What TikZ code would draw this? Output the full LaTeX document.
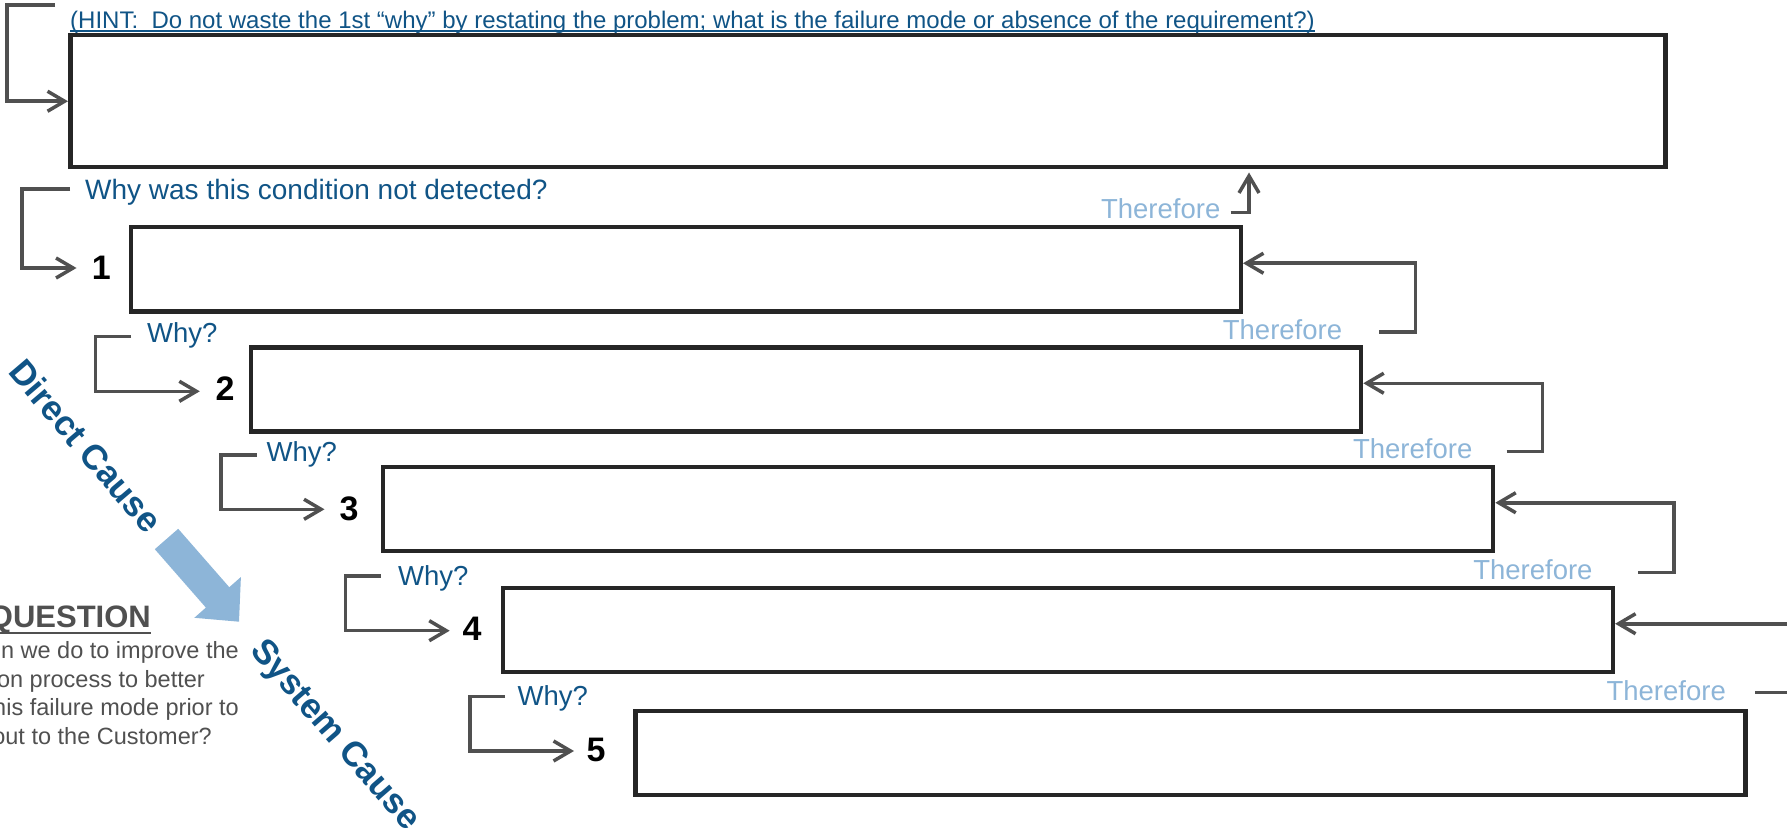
\documentclass[tikz,border=0pt]{standalone}
\usepackage{fontspec}
\setmainfont{Liberation Sans}
\usetikzlibrary{arrows.meta}
\definecolor{dkblue}{RGB}{16,84,134}
\definecolor{ltblue}{RGB}{141,181,216}
\definecolor{connc}{RGB}{80,80,80}
\definecolor{boxc}{RGB}{38,38,38}
\definecolor{qgray}{RGB}{80,80,80}
\begin{document}
\begin{tikzpicture}[x=1pt,y=-1pt,
  wbox/.style={draw=boxc,line width=4.5pt,inner sep=0pt,anchor=north west,minimum width=1110pt,minimum height=84pt},
  conn/.style={draw=connc,line width=3.5pt,-{Straight Barb[length=17pt,width=20pt]}},
  whytxt/.style={text=dkblue,font=\fontsize{27.5}{30}\selectfont,inner sep=0pt,anchor=base west},
  thtxt/.style={text=ltblue,font=\fontsize{27.5}{30}\selectfont,inner sep=0pt,anchor=base east},
  num/.style={font=\fontsize{34}{38}\selectfont\bfseries,inner sep=0pt},
  diag/.style={text=dkblue,font=\fontsize{35}{40}\selectfont\bfseries,inner sep=0pt},
  qtxt/.style={text=qgray,font=\fontsize{23.5}{27}\selectfont,inner sep=0pt,anchor=base east},
]
\useasboundingbox (0,0) rectangle (1787,834);
\clip (0,0) rectangle (1787,834);

% boxes
\node[wbox,minimum width=1595pt,minimum height=132pt] (top) at (68,33) {};
\node[wbox] (b1) at (128.5,225) {};
\node[wbox] (b2) at (248.8,345) {};
\node[wbox] (b3) at (380.8,464.5) {};
\node[wbox] (b4) at (500.6,585.5) {};
\node[wbox] (b5) at (633,708.7) {};

% hint
\node[anchor=base west,inner sep=0pt,text=dkblue,font=\fontsize{24}{28}\selectfont] (hint) at (70,28.3)
  {(HINT:\ \ Do not waste the 1st “why” by restating the problem; what is the failure mode or absence of the requirement?)};
\draw[dkblue,line width=1.5pt] ([yshift=-2.5pt]hint.base west) -- ([yshift=-2.5pt]hint.base east);

% top connector
\coordinate (t0) at (55,5);
\draw[conn] (t0) -- ++(-48,0) |- (top.west);

% why labels
\node[whytxt,font=\fontsize{28}{30}\selectfont] (w1) at (85,199.3) {Why was this condition not detected?};
\node[whytxt] (w2) at (147,342.7) {Why?};
\node[whytxt] (w3) at (266.5,461.5) {Why?};
\node[whytxt] (w4) at (398,585) {Why?};
\node[whytxt] (w5) at (517.4,705) {Why?};

% numbers
\node[num] (n1) at (101.4,268.3) {1};
\node[num] (n2) at (225,389) {2};
\node[num] (n3) at (349,508.7) {3};
\node[num] (n4) at (472,628.7) {4};
\node[num] (n5) at (596,750) {5};

% why connectors
\coordinate (h1) at (70,189);    \coordinate (a1) at (76.5,268);
\coordinate (h2) at (131,336.7); \coordinate (a2) at (199.8,391.3);
\coordinate (h3) at (256.7,455); \coordinate (a3) at (324.5,509.3);
\coordinate (h4) at (380.8,576); \coordinate (a4) at (449.7,630.7);
\coordinate (h5) at (505,696.7); \coordinate (a5) at (574,751);
\draw[conn] (h1) -- (21.8,189) |- (a1);
\draw[conn] (h2) -- (95.7,336.7) |- (a2);
\draw[conn] (h3) -- (220.8,455) |- (a3);
\draw[conn] (h4) -- (345.6,576) |- (a4);
\draw[conn] (h5) -- (470,696.7) |- (a5);

% therefore labels
\node[thtxt] (th1) at (1220.5,219) {Therefore};
\node[thtxt] (th2) at (1342.3,339.3) {Therefore};
\node[thtxt] (th3) at (1472.5,458.3) {Therefore};
\node[thtxt] (th4) at (1592.7,579) {Therefore};
\node[thtxt] (th5) at (1726,700.7) {Therefore};

% therefore connectors
\coordinate (s1) at (1230.6,212.7); \coordinate (v1) at (1249,212.7);
\coordinate (s2) at (1379,332);     \coordinate (v2) at (1415.5,332);
\coordinate (s3) at (1506.7,451.7); \coordinate (v3) at (1542.6,451.7);
\coordinate (s4) at (1638,572.7);   \coordinate (v4) at (1674,572.7);
\coordinate (s5) at (1755,692.3);   \coordinate (v5) at (1792,692.3);
\coordinate (e1) at ([yshift=6pt]b1.east);
\coordinate (e2) at ([yshift=6pt]b2.east);
\coordinate (e3) at ([yshift=6pt]b3.east);
\coordinate (e4) at ([yshift=6pt]b4.east);
\draw[conn,shorten >=3pt] (s1) -- (v1) -- (v1 |- top.south);
\draw[conn] (s2) -- (v2) |- (e1);
\draw[conn] (s3) -- (v3) |- (e2);
\draw[conn] (s4) -- (v4) |- (e3);
\draw[conn] (s5) -- (v5) |- (e4);

% direct / system cause
\node[diag,rotate=-49.6] (dc) at (86,446) {Direct Cause};
\node[diag,rotate=-49] (sc) at (334,736) {System Cause};
\fill[ltblue] (178.2,528.8) -- (229.3,587.2) -- (240.9,577.0) -- (239.0,621.7)
  -- (194.3,617.8) -- (205.9,607.6) -- (154.8,549.2) -- cycle;

% question
\node[anchor=base east,inner sep=0pt,text=qgray,font=\fontsize{31}{34}\selectfont\bfseries] (q) at (151,627) {QUESTION};
\draw[qgray,line width=2.5pt] (0,633) -- ([yshift=-6pt]q.base east);
\node[qtxt] (q1) at (239,658) {n we do to improve the};
\node[qtxt] (q2) at (205,687) {on process to better};
\node[qtxt] (q3) at (239,715) {his failure mode prior to};
\node[qtxt] (q4) at (212,744) {out to the Customer?};
\end{tikzpicture}
\end{document}
